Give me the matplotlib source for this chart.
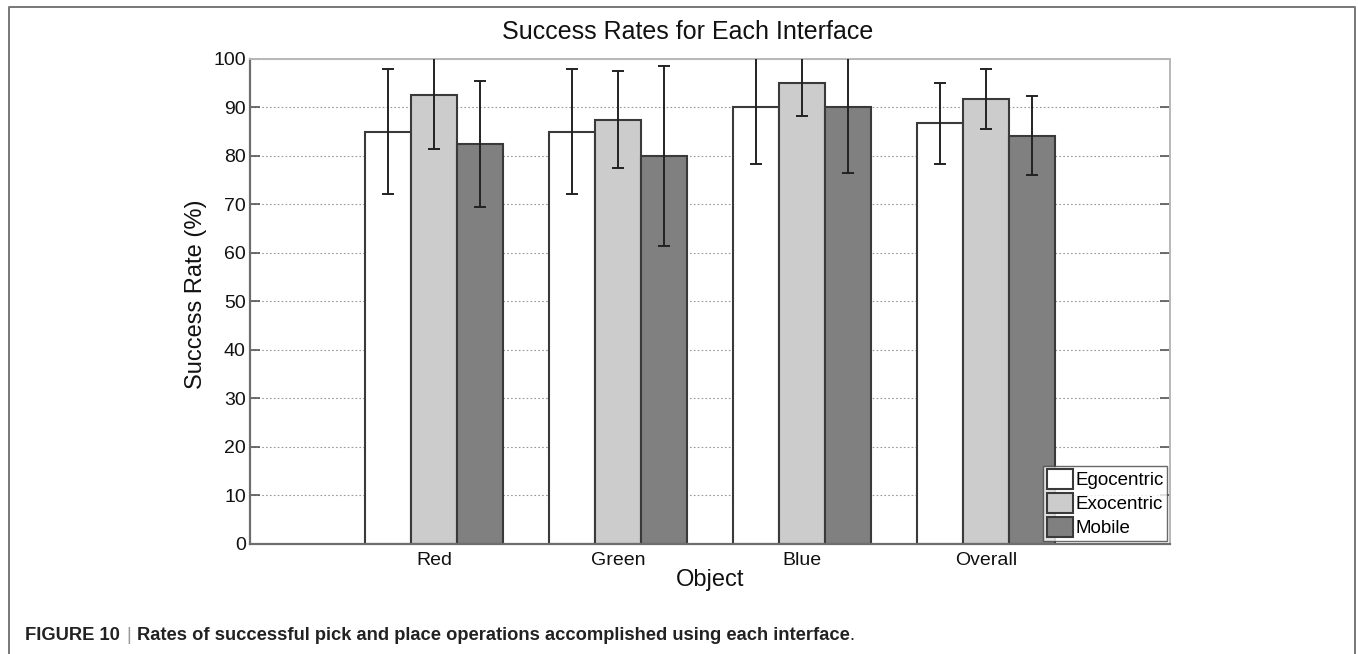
import numpy as np
import matplotlib
matplotlib.use('Agg')
from matplotlib import pyplot as plt
from matplotlib.lines import Line2D

plt.rcParams['font.family'] = ['Liberation Sans', 'DejaVu Sans']

# Данные
objects = ['Red', 'Green', 'Blue', 'Overall']
interfaces = ['Egocentric', 'Exocentric', 'Mobile']
ego_rate = [85.0, 85.0, 90.0, 86.7]
exo_rate = [92.5, 87.5, 95.0, 91.7]
mob_rate = [82.5, 80.0, 90.0, 84.2]
ego_err = [12.9, 12.9, 11.6, 8.3]
exo_err = [11.0, 10.0, 6.8, 6.2]
mob_err = [13.0, 18.5, 13.6, 8.2]
y_ticks = list(range(0, 101, 10))

colors = ['#ffffff', '#cccccc', '#808080']
edge = '#3a3a3a'

W, H = 1358, 654
fig = plt.figure(figsize=(W / 100, H / 100), dpi=100)
ax = fig.add_axes([0.1841, 0.1682, 0.6775, 0.7416])

x = np.arange(1, len(objects) + 1)
width = 0.25
series = [(ego_rate, ego_err), (exo_rate, exo_err), (mob_rate, mob_err)]

for idx, (vals, errs) in enumerate(series):
    pos = x + (idx - 1) * width
    ax.bar(pos, vals, width, color=colors[idx], edgecolor=edge,
           linewidth=1.5, label=interfaces[idx], zorder=2)
    ax.errorbar(pos, vals, yerr=errs, fmt='none', ecolor='#222222',
                elinewidth=1.4, capsize=4.3, capthick=1.4, zorder=3)

ax.set_xlim(0, 5)
ax.set_ylim(0, 100)
ax.set_yticks(y_ticks)
ax.set_xticks(x)
ax.set_xticklabels(objects)
ax.tick_params(axis='both', direction='in', labelsize=14, length=7,
               color='#555555', width=1.2, right=True, top=True,
               labelcolor='#111111')
ax.tick_params(axis='y', pad=3)
ax.tick_params(axis='x', length=0, pad=6)

ax.yaxis.grid(True, linestyle=(0, (1.5, 2)), color='#999999',
              linewidth=0.8, zorder=0)
ax.set_axisbelow(True)

for side in ['left', 'bottom']:
    ax.spines[side].set_color('#6e6e6e')
    ax.spines[side].set_linewidth(1.6)
for side in ['top', 'right']:
    ax.spines[side].set_color('#b8b8b8')
    ax.spines[side].set_linewidth(1.4)

ax.set_ylabel('Success Rate (%)', fontsize=17, color='#111111')
ax.yaxis.set_label_coords(-0.047, 0.515)
ax.set_xlabel('Object', fontsize=17, labelpad=0, color='#111111')

fig.text(688 / W, 1 - 32 / H, 'Success Rates for Each Interface',
         fontsize=18, ha='center', va='center', color='#111111')

leg = ax.legend(loc='lower right', fontsize=13.5, frameon=True, fancybox=False,
                handlelength=1.4, handleheight=1.2, handletextpad=0.1,
                labelspacing=0.22, borderpad=0.2, borderaxespad=0.15)
leg.get_frame().set_edgecolor('#444444')
leg.get_frame().set_linewidth(1.0)

# Подпись к рисунку: куски текста ставим друг за другом
renderer = fig.canvas.get_renderer()
cap_y = 1 - 636 / H
parts = [('FIGURE 10', 'bold', '#222222', 6),
         ('|', 'normal', '#999999', 6),
         ('Rates of successful pick and place operations accomplished using each interface',
          'bold', '#222222', 0),
         ('.', 'normal', '#222222', 0)]
cur_x = 25
for txt, weight, col, gap in parts:
    t = fig.text(cur_x / W, cap_y, txt, fontsize=13.2, fontweight=weight,
                 color=col, ha='left', va='center')
    bb = t.get_window_extent(renderer)
    cur_x = bb.x1 + gap

# Внешняя рамка
fx = [9 / W, 9 / W, 1355 / W, 1355 / W]
fy = [0, 1 - 7 / H, 1 - 7 / H, 0]
fig.add_artist(Line2D(fx, fy, color='#777777', linewidth=1.4))

fig.savefig('out.png', dpi=100)
